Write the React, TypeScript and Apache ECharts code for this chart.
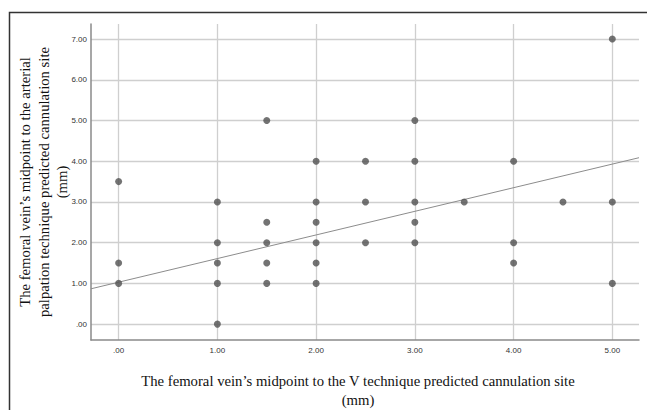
import React, { useEffect, useRef } from "react";
import * as echarts from "echarts";

const xTicks = [0, 1, 2, 3, 4, 5];
const yTicks = [0, 1, 2, 3, 4, 5, 6, 7];
const xValues = [0, 0, 0, 1, 1, 1, 1, 1, 1.5, 1.5, 1.5, 1.5, 1.5, 2, 2, 2, 2, 2, 2, 2.5, 2.5, 2.5, 3, 3, 3, 3, 3, 3.5, 4, 4, 4, 4.5, 5, 5, 5];
const yValues = [3.5, 1.5, 1, 3, 2, 1.5, 1, 0, 5, 2.5, 2, 1.5, 1, 4, 3, 2.5, 2, 1.5, 1, 4, 3, 2, 5, 4, 3, 2.5, 2, 3, 4, 2, 1.5, 3, 7, 3, 1];
const fitIntercept = 1.03;
const fitSlope = 0.58;
const xMin = -0.28;
const xMax = 5.27;
const yMin = -0.39;
const yMax = 7.37;

const xTitle = "The femoral vein\u2019s midpoint to the V technique predicted cannulation site\n(mm)";
const yTitle = "The femoral vein\u2019s midpoint to the arterial\npalpation technique predicted cannulation site\n(mm)";

const fmt = (v: number) => (v === 0 ? ".00" : v.toFixed(2));

export default function App() {
  const ref = useRef<HTMLDivElement>(null);
  useEffect(() => {
    if (!ref.current) return;
    const chart = echarts.init(ref.current, null, { renderer: "svg" });
    const points = xValues.map((x, i) => [x, yValues[i]]);
    const fit = [
      [xMin, fitIntercept + fitSlope * xMin],
      [xMax, fitIntercept + fitSlope * xMax],
    ];
    chart.setOption({
      animation: false,
      backgroundColor: "#ffffff",
      grid: { left: 91, right: 8, top: 24, bottom: 70, containLabel: false, outerBoundsMode: "none" },
      graphic: [
        {
          type: "polyline",
          shape: { points: [[9.5, 420], [9.5, 12.5], [660, 12.5]] },
          style: { stroke: "#333", lineWidth: 1.5, fill: null },
          silent: true,
        },
      ],
      xAxis: {
        type: "value",
        min: xMin,
        max: xMax,
        name: xTitle,
        nameLocation: "middle",
        nameGap: 31,
        nameMoveOverlap: false,
        nameTextStyle: {
          fontFamily: "Liberation Serif",
          fontSize: 14.7,
          color: "#111",
          lineHeight: 19,
          padding: [0, 14, 0, 0],
        },
        axisLine: { show: true, onZero: false, lineStyle: { color: "#8a8a8a", width: 1.5 } },
        axisTick: { show: false, customValues: xTicks },
        axisLabel: {
          customValues: xTicks,
          formatter: fmt,
          fontSize: 8,
          fontFamily: "Liberation Sans",
          color: "#333",
          margin: 6,
        },
        splitLine: { show: true, lineStyle: { color: "#cfcfcf", width: 1.3 } },
      },
      yAxis: {
        type: "value",
        min: yMin,
        max: yMax,
        name: yTitle,
        nameLocation: "middle",
        nameRotate: 90,
        nameGap: 20,
        nameMoveOverlap: false,
        nameTextStyle: {
          fontFamily: "Liberation Serif",
          fontSize: 14.7,
          color: "#111",
          lineHeight: 18.3,
        },
        axisLine: { show: true, onZero: false, lineStyle: { color: "#8a8a8a", width: 1.5 } },
        axisTick: { show: false, customValues: yTicks },
        axisLabel: {
          customValues: yTicks,
          formatter: fmt,
          fontSize: 8,
          fontFamily: "Liberation Sans",
          color: "#333",
          margin: 4,
        },
        splitLine: { show: true, lineStyle: { color: "#cfcfcf", width: 1.3 } },
      },
      series: [
        {
          type: "line",
          data: fit,
          showSymbol: false,
          symbol: "none",
          lineStyle: { color: "#8c8c8c", width: 1 },
          silent: true,
          z: 2,
        },
        {
          type: "scatter",
          data: points,
          symbolSize: 7,
          itemStyle: { color: "#505050" },
          z: 3,
        },
      ],
    });
    return () => chart.dispose();
  }, []);
  return <div ref={ref} style={{ width: 647, height: 410, position: "absolute", left: 0, top: 0 }} />;
}
